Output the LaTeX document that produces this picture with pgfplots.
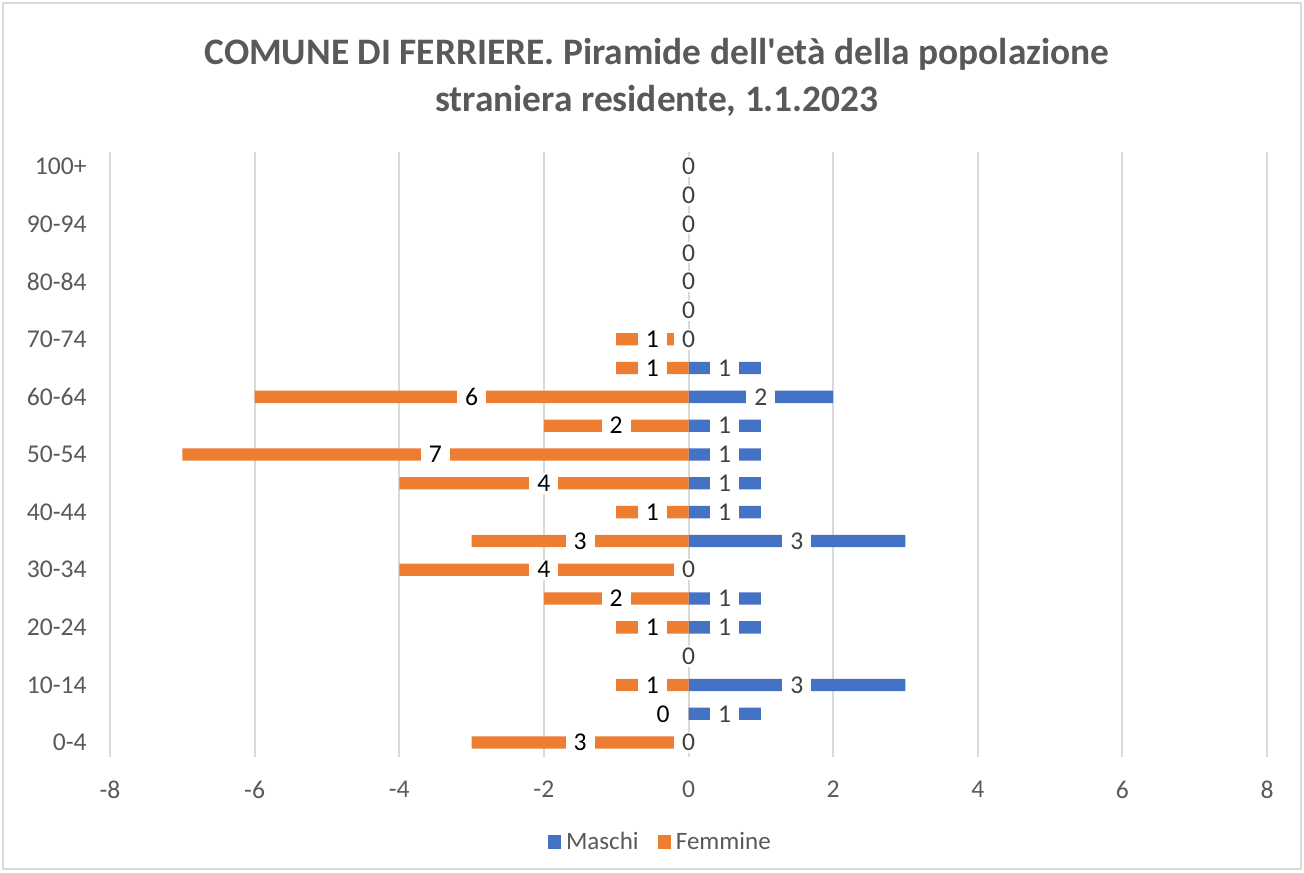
\documentclass[border=0pt]{standalone}
\usepackage{pgfplots}
\pgfplotsset{compat=1.18}
\usepackage{pgfplotstable}
\usepackage{fontspec}
\setmainfont{Carlito}

\definecolor{maschi}{HTML}{4472C4}
\definecolor{femmine}{HTML}{ED7D31}
\definecolor{txtgray}{HTML}{595959}
\definecolor{gridgray}{HTML}{D9D9D9}
\definecolor{lblgray}{HTML}{404040}

% idx: age class (0 = 0-4, 20 = 100+), M = males, F = females
\pgfplotstableread{
idx M F
0 0 3
1 1 0
2 3 1
3 0 0
4 1 1
5 1 2
6 0 4
7 3 3
8 1 1
9 1 4
10 1 7
11 1 2
12 2 6
13 1 1
14 0 1
15 0 0
16 0 0
17 0 0
18 0 0
19 0 0
20 0 0
}\pyr

\begin{document}
\begin{tikzpicture}
\useasboundingbox (0,0) rectangle (652pt,436pt);
\draw[gridgray, line width=0.75pt] (1.5pt,1.5pt) rectangle (650.5pt,434.5pt);
\node[align=center, text=txtgray, font=\fontsize{18.7}{23.5}\selectfont\bfseries]
  at (328.5pt,397.5pt) {COMUNE DI FERRIERE. Piramide dell\textquotesingle età della popolazione\\straniera residente, 1.1.2023};
\begin{axis}[at={(55pt,57.5pt)}, anchor=south west,
  scale only axis, width=578.5pt, height=302.5pt,
  xmin=-8, xmax=8, ymin=-0.5, ymax=20.5,
  xtick={-8,-6,...,8},
  ytick={0,2,...,20},
  yticklabels={0-4,10-14,20-24,30-34,40-44,50-54,60-64,70-74,80-84,90-94,100+},
  /pgf/number format/assume math mode=true,
  axis line style={draw=none}, major tick style={draw=none},
  xmajorgrids, grid style={gridgray, line width=1pt},
  tick label style={text=txtgray, font=\fontsize{12.8}{15}\selectfont},
  yticklabel style={anchor=east, inner sep=0pt, xshift=-11.5pt},
  xticklabel style={anchor=center, inner sep=0pt, yshift=-16.25pt},
  legend columns=2,
  legend style={draw=none, at={(0.4765,-0.1405)}, anchor=center,
    font=\fontsize{12.5}{15}\selectfont, text=txtgray,
    /tikz/every odd column/.append style={column sep=0.5pt},
    /tikz/every even column/.append style={column sep=7.5pt}},
  legend image code/.code={\fill[#1] (0pt,-3.3pt) rectangle (6.6pt,3.3pt);},
  ]
\addplot[xbar, bar width=6.15pt, bar shift=0pt, fill=maschi, draw=none]
  table[x=M, y=idx] {\pyr};
\addlegendentry{Maschi}
\addplot[xbar, bar width=6.15pt, bar shift=0pt, fill=femmine, draw=none]
  table[x expr=-\thisrow{F}, y=idx] {\pyr};
\addlegendentry{Femmine}
% data labels
\addplot[draw=none, mark=none, forget plot, point meta=explicit symbolic,
  nodes near coords,
  every node near coord/.append style={anchor=center, fill=white, text=black,
    inner xsep=4pt, inner ysep=1pt, font=\fontsize{12.8}{15}\selectfont}]
  table[x expr={ifthenelse(\thisrow{F}==0, ifthenelse(\thisrow{M}==0,0,-0.35), -\thisrow{F}/2)},
        y=idx, meta=F] {\pyr};
\addplot[draw=none, mark=none, forget plot, point meta=explicit symbolic,
  nodes near coords,
  every node near coord/.append style={anchor=center, fill=white, text=lblgray,
    inner xsep=4pt, inner ysep=1pt, font=\fontsize{12.8}{15}\selectfont}]
  table[x expr=\thisrow{M}/2, y=idx, meta=M] {\pyr};
\end{axis}
\end{tikzpicture}
\end{document}
